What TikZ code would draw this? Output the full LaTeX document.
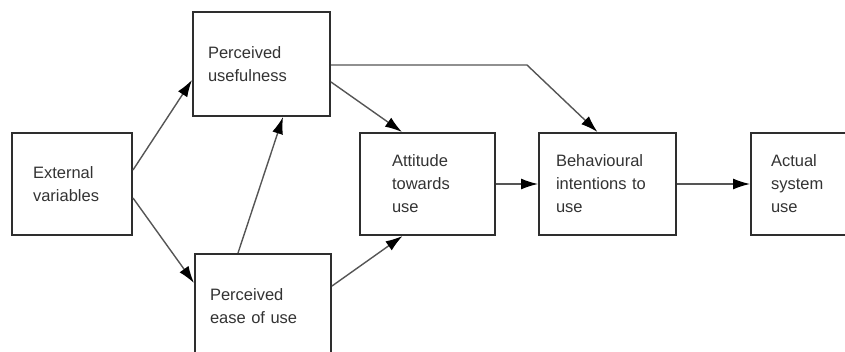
\documentclass[tikz,border=0pt]{standalone}
\usepackage{fontspec}
\setmainfont{Liberation Sans}
\usetikzlibrary{arrows.meta}
\definecolor{boxline}{HTML}{2E2E2E}
\definecolor{arrline}{HTML}{555555}
\definecolor{txt}{HTML}{333333}

\begin{document}
\begin{tikzpicture}[x=1pt, y=-1pt,
    box/.style 2 args={draw=boxline, line width=2pt, text width=#1, inner xsep=#2,
        minimum height=102pt, align=left, text=txt,
        font=\fontsize{16.5}{23}\selectfont},
    arr/.style={draw=arrline, line width=1.4pt,
        -{Latex[length=17pt,width=11pt,color=black]}}]
    \useasboundingbox (0,0) rectangle (845,351);
    \node[box={78pt}{21pt}] (ext) at (72,184) {External\\variables};
    \node[box={107pt}{15pt}, minimum height=104pt] (pu) at (261.5,64) {Perceived\\usefulness};
    \node[box={106pt}{15pt}, minimum height=104pt] (peou) at (263,306) {Perceived\\ease of use};
    \node[box={71pt}{32pt}] (att) at (427.5,184) {Attitude\\towards\\use};
    \node[box={103pt}{17pt}] (bi) at (607.5,184) {Behavioural\\intentions to\\use};
    \node[box={97pt}{20pt}] (act) at (819.5,184) {Actual\\system\\use};
    \coordinate (bend) at (527,65);

    \draw[arr] ([yshift=14pt]ext.east) -- ([yshift=-16pt]pu.west);
    \draw[arr] ([yshift=-14pt]ext.east) -- ([yshift=23pt]peou.west);
    \draw[arr] ([xshift=-25pt]peou.north) -- ([xshift=21.5pt]pu.south);
    \draw[arr] ([yshift=-18pt]pu.east) -- ([xshift=-25.5pt]att.north);
    \draw[arr] ([yshift=20pt]peou.east) -- ([xshift=-25pt]att.south);
    \draw[arr] ([yshift=-1pt]pu.east) -- (bend) -- ([xshift=-10pt]bi.north);
    \draw[arr] (att.east) -- (bi.west);
    \draw[arr] (bi.east) -- (act.west);
\end{tikzpicture}
\end{document}
